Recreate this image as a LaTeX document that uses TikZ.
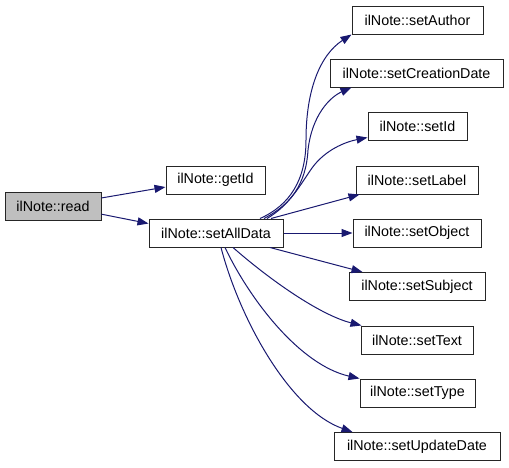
\documentclass[tikz,border=0pt]{standalone}
\usepackage{fontspec}
\setmainfont{Liberation Sans}
\usetikzlibrary{arrows.meta,calc}
\definecolor{edgeblue}{HTML}{191970}
\definecolor{boxgray}{HTML}{BFBFBF}
\begin{document}
\begin{tikzpicture}[x=1pt,y=-1pt,
  box/.style={draw=black!85,line width=1pt,rectangle,minimum height=28pt,inner sep=0pt,
    font=\fontsize{14.3}{17}\selectfont,fill=white},
  edge/.style={draw=edgeblue,line width=1pt,-{Triangle[length=11pt,width=8pt]}}]
\useasboundingbox (0,0) rectangle (509,467);
% nodes
\node[box,fill=boxgray,minimum width=96pt] (read) at (53,206.5) {ilNote::read};
\node[box,minimum width=99pt] (getId) at (215.5,180) {ilNote::getId};
\node[box,minimum width=134pt] (setAllData) at (216,233) {ilNote::setAllData};
\node[box,minimum width=131pt] (setAuthor) at (417.5,20) {ilNote::setAuthor};
\node[box,minimum width=173pt] (setCreationDate) at (416.5,73) {ilNote::setCreationDate};
\node[box,minimum width=99pt] (setId) at (417.5,126.5) {ilNote::setId};
\node[box,minimum width=122pt] (setLabel) at (417,180) {ilNote::setLabel};
\node[box,minimum width=128pt] (setObject) at (417,233) {ilNote::setObject};
\node[box,minimum width=136pt] (setSubject) at (417,286.5) {ilNote::setSubject};
\node[box,minimum width=112pt] (setText) at (417,340) {ilNote::setText};
\node[box,minimum width=115pt] (setType) at (417.5,393) {ilNote::setType};
\node[box,minimum width=166pt] (setUpdateDate) at (417,446.5) {ilNote::setUpdateDate};
% edges
\draw[edge] (read.10) -- (getId.188);
\draw[edge] (read.-9) -- (setAllData.172);
\draw[edge] ($(setAllData.north)+(44,0)$) .. controls (290,205) and (306,180) .. (306,140)
  .. controls (306,90) and (320,55) .. (setAuthor.south west);
\draw[edge] ($(setAllData.north)+(48,0)$) .. controls (290,205) and (306,185) .. (308,150)
  .. controls (312,115) and (330,97) .. ($(setCreationDate.south west)+(22,0)$);
\draw[edge] ($(setAllData.north)+(51,0)$) .. controls (290,205) and (300,185) .. (312,168)
  .. controls (325,150) and (345,142) .. ($(setId.west)+(0,11)$);
\draw[edge] ($(setAllData.north)+(55,0)$) -- ($(setLabel.south west)+(4,0)$);
\draw[edge] (setAllData.east) -- (setObject.west);
\draw[edge] ($(setAllData.south)+(54,0)$) -- ($(setSubject.north west)+(14,0)$);
\draw[edge] ($(setAllData.south)+(17,0)$) .. controls (270,280) and (320,315) .. ($(setText.north west)+(1,0)$);
\draw[edge] ($(setAllData.south)+(9,0)$) .. controls (250,300) and (300,365) .. (setType.north west);
\draw[edge] ($(setAllData.south)+(5,0)$) .. controls (240,320) and (290,410) .. ($(setUpdateDate.north west)+(19,0)$);
\end{tikzpicture}
\end{document}
